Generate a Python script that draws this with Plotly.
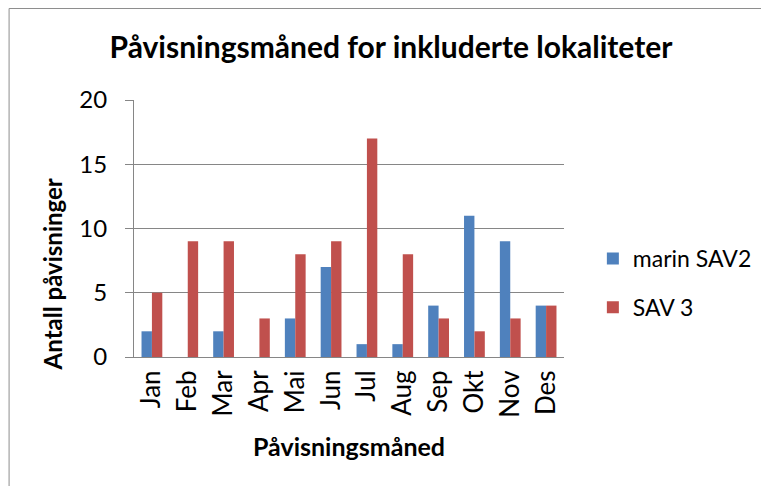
import plotly.graph_objects as go

months = ["Jan", "Feb", "Mar", "Apr", "Mai", "Jun", "Jul", "Aug", "Sep", "Okt", "Nov", "Des"]
marin_sav2 = [2, 0, 2, 0, 3, 7, 1, 1, 4, 11, 9, 4]
sav3 = [5, 9, 9, 3, 8, 9, 17, 8, 3, 2, 3, 4]
y_ticks = [0, 5, 10, 15, 20]

FONT = "Lato"
OFF = 8  # page body margin
W, H = 769 - OFF, 486 - OFF
# plot area in screen pixels
SX0, SX1, SY0, SY1 = 134, 566, 100, 357
L, R, T, B = SX0 - OFF, W - (SX1 - OFF), SY0 - OFF, H - (SY1 - OFF)
pw, ph = W - L - R, H - T - B

def px(sx):
    return (sx - OFF - L) / pw

def py(sy):
    return (H - B - (sy - OFF)) / ph

GRAY = "#868686"

fig = go.Figure()
fig.add_trace(go.Bar(x=months, y=marin_sav2, name="marin SAV2", marker_color="#4F81BD",
                     marker_line_width=0, legendgroup="a"))
fig.add_trace(go.Bar(x=months, y=sav3, name="SAV 3", marker_color="#C0504D",
                     marker_line_width=0, legendgroup="b"))

fig.update_layout(
    width=W, height=H,
    margin=dict(l=L, r=R, t=T, b=B),
    paper_bgcolor="white", plot_bgcolor="white",
    barmode="group", bargap=0.42, bargroupgap=0,
    font=dict(family=FONT, color="black"),
    title=dict(text="<b>Påvisningsmåned for inkluderte lokaliteter</b>",
               x=(391 - OFF) / W, xref="container", xanchor="center",
               y=1 - (47 - OFF) / H, yref="container", yanchor="middle",
               font=dict(size=30, family=FONT)),
    legend=dict(x=px(595), xanchor="left", y=py(283), yanchor="middle",
                font=dict(size=23, family=FONT), tracegroupgap=16,
                traceorder="grouped", itemwidth=30, bgcolor="rgba(0,0,0,0)"),
    showlegend=True,
)
fig.update_xaxes(
    tickangle=-90, tickfont=dict(size=26, family=FONT), ticklabelstandoff=2,
    showline=True, linecolor=GRAY, linewidth=1, ticks="", showgrid=False,
)
fig.update_yaxes(
    range=[0, 20], tickvals=y_ticks, tickfont=dict(size=24, family=FONT),
    ticklabelstandoff=13,
    showline=True, linecolor=GRAY, linewidth=1,
    showgrid=True, gridcolor=GRAY, gridwidth=1,
    ticks="outside", ticklen=8, tickcolor=GRAY, zeroline=False,
)
fig.add_annotation(text="<b>Antall påvisninger</b>", textangle=-90, showarrow=False,
                   xref="paper", yref="paper", x=px(52), y=py(274),
                   xanchor="center", yanchor="middle", font=dict(size=24, family=FONT))
fig.add_annotation(text="<b>Påvisningsmåned</b>", showarrow=False,
                   xref="paper", yref="paper", x=px(350), y=py(446),
                   xanchor="center", yanchor="middle", font=dict(size=25, family=FONT))
fig.add_shape(type="rect", xref="paper", yref="paper",
              x0=px(OFF + 0.5), x1=px(767), y0=py(500), y1=py(OFF + 0.5),
              line=dict(color="#8E8E8E", width=1), fillcolor="rgba(0,0,0,0)", layer="below")

fig.write_html("out.html")
